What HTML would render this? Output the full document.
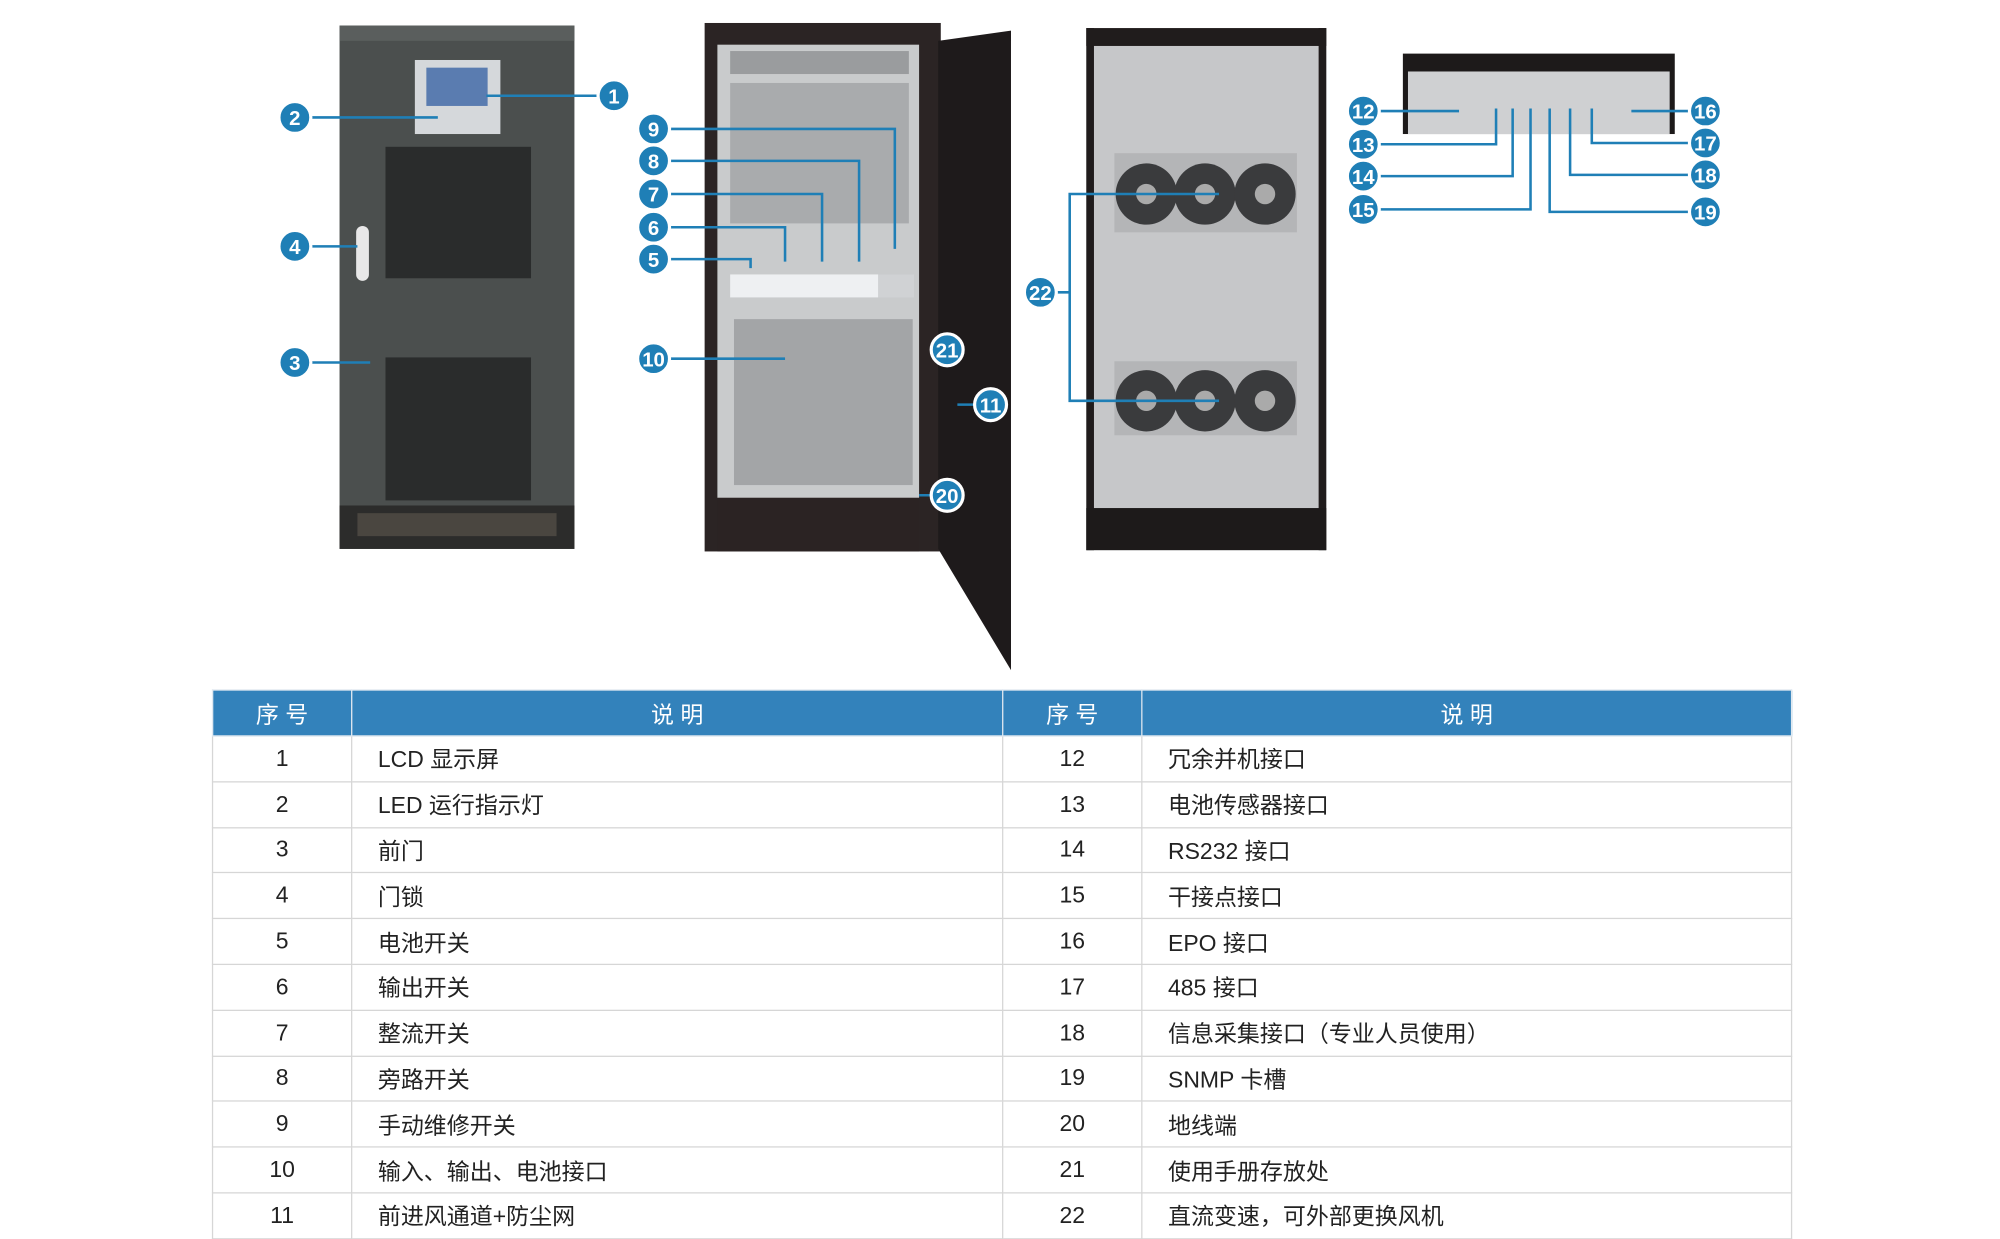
<!DOCTYPE html>
<html><head><meta charset="utf-8"><style>
html,body{margin:0;padding:0;background:#fff;}
#wrap{width:2000px;height:1239px;overflow:hidden;position:relative;}
#s{position:absolute;left:0;top:0;width:1560px;height:971px;transform:scale(1.2765);transform-origin:0 0;}
table{position:absolute;left:166px;top:540px;width:1238px;border-collapse:collapse;font-family:"Liberation Sans","Noto Sans CJK SC",sans-serif;font-size:18px;color:#222;}
td,th{border:1px solid #d6d6d6;height:34.8px;padding:0;}
th{background:#3382bb;color:#fff;font-weight:normal;border-color:#e0e8f0;height:35px;}
td.n{text-align:center;}
td.t{padding-left:20px;}
</style></head><body><div id="wrap"><div id="s">
<svg width="1560" height="540" viewBox="0 0 1560 540" style="position:absolute;left:0;top:0" font-family="Liberation Sans,sans-serif">
<rect x="266" y="20" width="184" height="410" fill="#4b4f4e"/>
<rect x="266" y="20" width="184" height="12" fill="#5a5e5d"/>
<rect x="325" y="47" width="67" height="58" fill="#d5d8db"/>
<rect x="334" y="53" width="48" height="30" fill="#5a7cb0"/>
<rect x="302" y="115" width="114" height="103" fill="#2a2c2c"/>
<rect x="302" y="280" width="114" height="112" fill="#2a2c2c"/>
<rect x="279" y="177" width="10" height="43" rx="5" fill="#e8e8e8"/>
<rect x="266" y="396" width="184" height="34" fill="#2c2c2b"/>
<rect x="280" y="402" width="156" height="18" fill="#4a4640"/>
<rect x="552" y="18" width="185" height="414" fill="#2b2424"/>
<rect x="562" y="35" width="158" height="355" fill="#c9cbcc"/>
<rect x="572" y="40" width="140" height="18" fill="#9a9c9e"/>
<rect x="572" y="65" width="140" height="110" fill="#a9abad"/>
<rect x="572" y="215" width="116" height="18" fill="#eef0f2"/>
<rect x="688" y="215" width="28" height="18" fill="#d0d2d4"/>
<rect x="575" y="250" width="140" height="130" fill="#a3a5a7"/>
<rect x="562" y="390" width="158" height="42" fill="#2b2323"/>
<polygon points="735,32 792,24 792,525 735,430" fill="#1e1a1b"/>
<rect x="851" y="22" width="188" height="409" fill="#c6c7c9"/>
<rect x="851" y="22" width="188" height="14" fill="#201c1c"/>
<rect x="851" y="22" width="6" height="409" fill="#201c1c"/>
<rect x="1033" y="22" width="6" height="409" fill="#201c1c"/>
<rect x="873" y="120" width="143" height="62" fill="#b4b5b7"/>
<rect x="873" y="283" width="143" height="58" fill="#b4b5b7"/>
<g fill="#3a3b3d"><circle cx="898" cy="152" r="24"/><circle cx="944" cy="152" r="24"/><circle cx="991" cy="152" r="24"/><circle cx="898" cy="314" r="24"/><circle cx="944" cy="314" r="24"/><circle cx="991" cy="314" r="24"/></g>
<g fill="#aaa"><circle cx="898" cy="152" r="8"/><circle cx="944" cy="152" r="8"/><circle cx="991" cy="152" r="8"/><circle cx="898" cy="314" r="8"/><circle cx="944" cy="314" r="8"/><circle cx="991" cy="314" r="8"/></g>
<rect x="851" y="398" width="188" height="33" fill="#1d1a1a"/>
<rect x="1099" y="42" width="213" height="63" fill="#1d1a1a"/>
<rect x="1103" y="56" width="205" height="49" fill="#cfd0d2"/>
<g stroke="#1f7fb6" stroke-width="2" fill="none">
<path d="M381 75H469M243 92H343M243 284H290M243 193H280"/>
<path d="M524 101H701V195M524 126H673V205M524 152H644V205M524 178H615V205M524 203H588V210M524 281H615"/>
<path d="M750 317H764M720 388H730"/>
<path d="M827 229H838M955 152H838V314H955"/>
<path d="M1080 87H1143M1080 113H1172V85M1080 138H1185V85M1080 164H1199V85"/>
<path d="M1278 87H1324M1324 112H1247V85M1324 137H1230V85M1324 166H1214V85"/>
</g>
<g fill="#1f7fb6" stroke="#fff" stroke-width="2.5">
<circle cx="481" cy="75" r="12.5"/><circle cx="231" cy="92" r="12.5"/><circle cx="231" cy="284" r="12.5"/><circle cx="231" cy="193" r="12.5"/>
<circle cx="512" cy="101" r="12.5"/><circle cx="512" cy="126" r="12.5"/><circle cx="512" cy="152" r="12.5"/><circle cx="512" cy="178" r="12.5"/><circle cx="512" cy="203" r="12.5"/><circle cx="512" cy="281" r="12.5"/>
<circle cx="742" cy="274" r="12.5"/><circle cx="776" cy="317" r="12.5"/><circle cx="742" cy="388" r="12.5"/><circle cx="815" cy="229" r="12.5"/>
<circle cx="1068" cy="87" r="12.5"/><circle cx="1068" cy="113" r="12.5"/><circle cx="1068" cy="138" r="12.5"/><circle cx="1068" cy="164" r="12.5"/>
<circle cx="1336" cy="87" r="12.5"/><circle cx="1336" cy="112" r="12.5"/><circle cx="1336" cy="137" r="12.5"/><circle cx="1336" cy="166" r="12.5"/>
</g>
<g font-size="16" font-weight="bold" fill="#fff" text-anchor="middle">
<text x="481" y="81">1</text><text x="231" y="98">2</text><text x="231" y="290">3</text><text x="231" y="199">4</text>
<text x="512" y="107">9</text><text x="512" y="132">8</text><text x="512" y="158">7</text><text x="512" y="184">6</text><text x="512" y="209">5</text><text x="512" y="287">10</text>
<text x="742" y="280">21</text><text x="776" y="323">11</text><text x="742" y="394">20</text><text x="815" y="235">22</text>
<text x="1068" y="93">12</text><text x="1068" y="119">13</text><text x="1068" y="144">14</text><text x="1068" y="170">15</text>
<text x="1336" y="93">16</text><text x="1336" y="118">17</text><text x="1336" y="143">18</text><text x="1336" y="172">19</text>
</g>
</svg>
<table>
<tr><th style="width:108px">序 号</th><th style="width:509px">说 明</th><th style="width:108px">序 号</th><th>说 明</th></tr>
<tr><td class="n">1</td><td class="t">LCD 显示屏</td><td class="n">12</td><td class="t">冗余并机接口</td></tr>
<tr><td class="n">2</td><td class="t">LED 运行指示灯</td><td class="n">13</td><td class="t">电池传感器接口</td></tr>
<tr><td class="n">3</td><td class="t">前门</td><td class="n">14</td><td class="t">RS232 接口</td></tr>
<tr><td class="n">4</td><td class="t">门锁</td><td class="n">15</td><td class="t">干接点接口</td></tr>
<tr><td class="n">5</td><td class="t">电池开关</td><td class="n">16</td><td class="t">EPO 接口</td></tr>
<tr><td class="n">6</td><td class="t">输出开关</td><td class="n">17</td><td class="t">485 接口</td></tr>
<tr><td class="n">7</td><td class="t">整流开关</td><td class="n">18</td><td class="t">信息采集接口（专业人员使用）</td></tr>
<tr><td class="n">8</td><td class="t">旁路开关</td><td class="n">19</td><td class="t">SNMP 卡槽</td></tr>
<tr><td class="n">9</td><td class="t">手动维修开关</td><td class="n">20</td><td class="t">地线端</td></tr>
<tr><td class="n">10</td><td class="t">输入、输出、电池接口</td><td class="n">21</td><td class="t">使用手册存放处</td></tr>
<tr><td class="n">11</td><td class="t">前进风通道+防尘网</td><td class="n">22</td><td class="t">直流变速，可外部更换风机</td></tr>
</table>
</div></div></body></html>
